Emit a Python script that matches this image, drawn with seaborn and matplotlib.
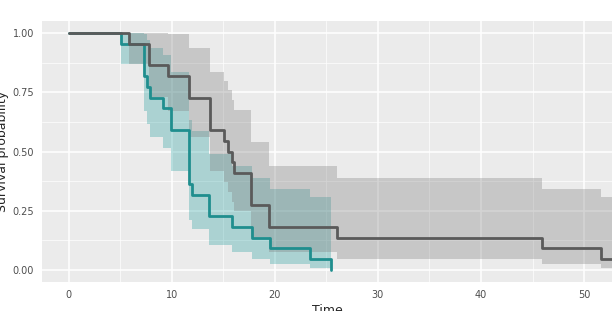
import numpy as np
import pandas as pd
import seaborn as sns
import matplotlib.pyplot as plt
from matplotlib.ticker import MultipleLocator

# group 1 (grey)
grey_time = [0, 5.9, 7.85, 9.66, 11.72, 13.76, 15.1, 15.5, 15.9, 16.05, 17.7, 19.4, 26.0, 45.9, 51.6, 53.0]
grey_surv = [1, .955, .864, .818, .727, .591, .545, .5, .455, .409, .273, .182, .136, .091, .045, .045]
grey_lower = [1, .871, .732, .672, .563, .417, .373, .329, .288, .248, .138, .075, .048, .024, .007, .007]
grey_upper = [1, 1, 1, .996, .939, .837, .799, .759, .718, .676, .540, .441, .390, .341, .308, .308]

# group 2 (teal)
teal_time = [0, 5.1, 7.36, 7.6, 7.9, 9.14, 9.9, 11.7, 12.0, 13.6, 15.9, 17.8, 19.5, 23.4, 25.5]
teal_surv = [1, .955, .818, .773, .727, .682, .591, .364, .318, .227, .182, .136, .091, .045, 0]
teal_lower = [1, .871, .672, .616, .563, .513, .417, .209, .173, .105, .075, .048, .024, .007, .007]
teal_upper = [1, 1, .996, .969, .939, .907, .837, .632, .587, .491, .441, .390, .341, .308, .308]

grey_col = "#5a5a5a"
teal_col = "#1f8e8e"

df = pd.concat([
    pd.DataFrame({"Time": grey_time, "surv": grey_surv, "group": "g1"}),
    pd.DataFrame({"Time": teal_time, "surv": teal_surv, "group": "g2"}),
])

sns.set_style("darkgrid", {"axes.facecolor": "#ebebeb", "grid.color": "white"})
fig = plt.figure(figsize=(6.12, 3.11), dpi=100)
ax = fig.add_axes([0.069, 0.0937, 0.931, 0.838])

ax.fill_between(teal_time, teal_lower, teal_upper, step="post",
                color="#1a9a9a", alpha=0.3, linewidth=0)
ax.fill_between(grey_time, grey_lower, grey_upper, step="post",
                color="#7f7f7f", alpha=0.33, linewidth=0)

# teal first so the grey curve sits on top
sns.lineplot(data=df, x="Time", y="surv", hue="group", hue_order=["g2", "g1"],
             palette={"g1": grey_col, "g2": teal_col},
             drawstyle="steps-post", linewidth=2, legend=False,
             estimator=None, sort=False, ax=ax)

ax.set_xlim(-2.55, 52.7)
ax.set_ylim(-0.05, 1.05)
ax.set_xticks([0, 10, 20, 30, 40, 50])
ax.set_yticks([0, 0.25, 0.5, 0.75, 1.0])
ax.set_yticklabels(["0.00", "0.25", "0.50", "0.75", "1.00"])
ax.xaxis.set_minor_locator(MultipleLocator(5))
ax.yaxis.set_minor_locator(MultipleLocator(0.125))
ax.grid(which="major", color="white", linewidth=1.1)
ax.grid(which="minor", color="white", linewidth=0.5)
ax.set_axisbelow(True)
for s in ax.spines.values():
    s.set_visible(False)
ax.tick_params(which="major", length=3, width=0.8, color="#333333",
               labelsize=7, labelcolor="#4d4d4d", pad=3)
ax.tick_params(which="minor", length=0)
ax.set_xlabel("Time", fontsize=9, labelpad=3)
ax.set_ylabel("Survival probability", fontsize=9, labelpad=2)

fig.savefig("out.png", dpi=100)
